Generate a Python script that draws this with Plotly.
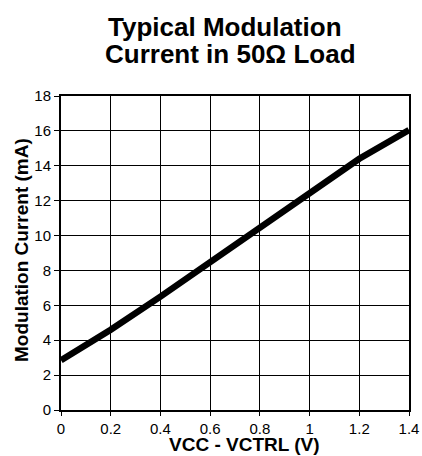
import plotly.graph_objects as go

vctrl = [0.0, 0.2, 0.4, 0.6, 0.8, 1.0, 1.2, 1.4]
mod_current = [2.85, 4.6, 6.5, 8.45, 10.4, 12.45, 14.4, 16.05]

x_ticks = [0, 0.2, 0.4, 0.6, 0.8, 1, 1.2, 1.4]
x_ticklabels = ["0", "0.2", "0.4", "0.6", "0.8", "1", "1.2", "1.4"]
y_ticks = [0, 2, 4, 6, 8, 10, 12, 14, 16, 18]
title_lines = ["Typical Modulation", "Current in 50Ω Load"]

FONT = "Liberation Sans, Arial, sans-serif"
W, H = 422, 456
L, R, T, B = 61, 13, 96, 46
PW, PH = W - L - R, H - T - B


def px_x(x):
    return (x - L) / PW


def px_y(y):
    return (H - B - y) / PH


fig = go.Figure()
fig.add_trace(go.Scatter(x=vctrl, y=mod_current, mode="lines",
                         line=dict(color="black", width=6.5), showlegend=False))

fig.update_layout(
    width=W, height=H,
    margin=dict(l=L, r=R, t=T, b=B, autoexpand=False),
    paper_bgcolor="white", plot_bgcolor="white",
    font=dict(family=FONT, color="black", size=15),
)
fig.update_xaxes(range=[0, 1.4], tickvals=x_ticks, ticktext=x_ticklabels,
                 showgrid=True, gridcolor="black", gridwidth=1.2,
                 showline=True, linecolor="black", linewidth=2, mirror=True,
                 ticks="outside", ticklen=4, tickcolor="black", tickwidth=1.2,
                 ticklabelstandoff=0,
                 zeroline=False, automargin=False)
fig.update_yaxes(range=[0, 18], tickvals=y_ticks,
                 showgrid=True, gridcolor="black", gridwidth=1.2,
                 showline=True, linecolor="black", linewidth=2, mirror=True,
                 ticks="outside", ticklen=5, tickcolor="black", tickwidth=1.2,
                 zeroline=False, automargin=False)

for i, (line, cx, cy) in enumerate(zip(title_lines, [225, 230], [27, 54])):
    fig.add_annotation(text="<b>%s</b>" % line, xref="paper", yref="paper",
                       x=px_x(cx), y=px_y(cy), xanchor="center", yanchor="middle",
                       showarrow=False, font=dict(size=26, family=FONT, color="black"))

fig.add_annotation(text="<b>VCC - VCTRL (V)</b>", xref="paper", yref="paper",
                   x=px_x(244), y=px_y(444),
                   xanchor="center", yanchor="middle", showarrow=False,
                   font=dict(size=19, family=FONT, color="black"))
fig.add_annotation(text="<b>Modulation Current (mA)</b>", xref="paper", yref="paper",
                   x=px_x(21), y=px_y(250),
                   xanchor="center", yanchor="middle", textangle=-90, showarrow=False,
                   font=dict(size=19, family=FONT, color="black"))

fig.write_html("out.html", config={"displayModeBar": False},
               post_script="document.body.style.margin='0';document.body.style.overflow='hidden';")
